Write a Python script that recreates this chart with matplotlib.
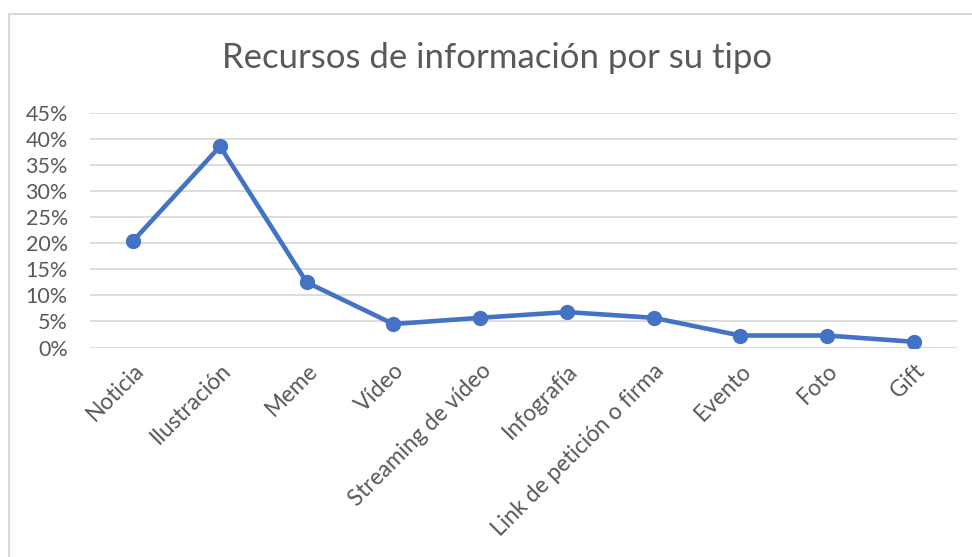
import matplotlib.pyplot as plt
from matplotlib.lines import Line2D
from matplotlib.ticker import FuncFormatter

# datos (porcentaje)
tipos = ['Noticia', 'Ilustración', 'Meme', 'Vídeo', 'Streaming de vídeo',
         'Infografía', 'Link de petición o firma', 'Evento', 'Foto', 'Gift']
porcentajes = [20.5, 38.6, 12.5, 4.5, 5.7, 6.8, 5.7, 2.3, 2.3, 1.1]
ticks_y = [0, 5, 10, 15, 20, 25, 30, 35, 40, 45]

gris = '#595959'
azul = '#4472C4'

plt.rcParams['font.family'] = ['Lato', 'DejaVu Sans']

fig = plt.figure(figsize=(9.72, 5.57), dpi=100)
ax = fig.add_axes([90/972, 1 - 347.5/557, 867/972, 234.5/557])

x = list(range(len(tipos)))
ax.plot(x, porcentajes, color=azul, linewidth=3.3, marker='o',
        markersize=10, solid_capstyle='round', zorder=3)

ax.set_xlim(-0.5, len(tipos) - 0.5)
ax.set_ylim(0, 45)
ax.set_yticks(ticks_y)
ax.yaxis.set_major_formatter(FuncFormatter(lambda v, p: '%d%%' % v))
ax.set_xticks(x)
ax.set_xticklabels(tipos, rotation=45, ha='right', rotation_mode='anchor')

ax.grid(axis='y', color='#D9D9D9', linewidth=1.3)
ax.set_axisbelow(True)
for s in ax.spines.values():
    s.set_visible(False)
ax.tick_params(length=0, labelcolor=gris)
ax.tick_params(axis='y', pad=16, labelsize=15.5)
ax.tick_params(axis='x', pad=9, labelsize=16.3)

fig.suptitle('Recursos de información por su tipo', x=497/972, y=1 - 58/557,
             va='center', fontsize=25, color=gris)

# marco del área del gráfico
fig.add_artist(Line2D([9/972, 9/972], [0, 1 - 14/557], color='#D9D9D9', linewidth=1.5))
fig.add_artist(Line2D([9/972, 1], [1 - 14/557, 1 - 14/557], color='#D9D9D9', linewidth=1.5))

plt.savefig('out.png', dpi=100)
